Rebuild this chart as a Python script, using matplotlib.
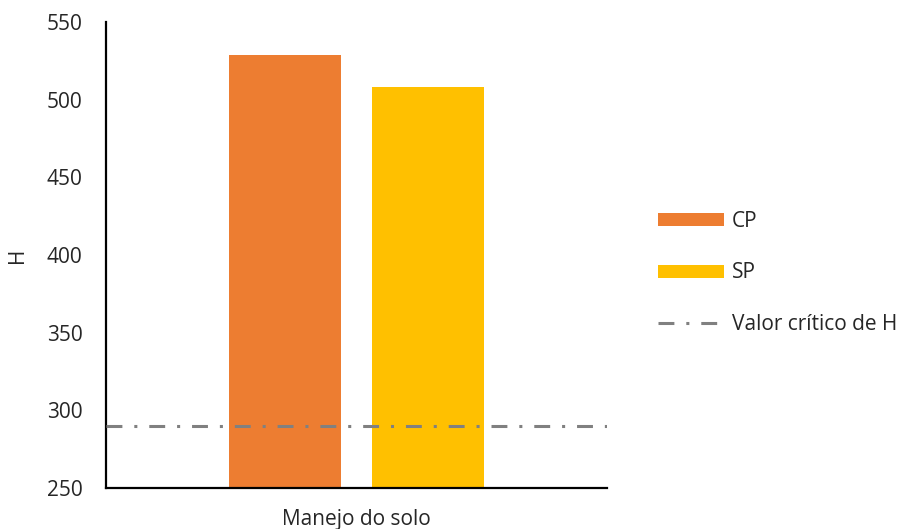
import matplotlib
matplotlib.use("Agg")
import matplotlib.pyplot as plt
from matplotlib.lines import Line2D
from matplotlib.patches import Patch

# Data
group = "Manejo do solo"
series = ["CP", "SP"]
values = [529.0, 508.0]
colors = ["#ED7D31", "#FFC000"]
critical_label = "Valor crítico de H"
critical_value = 290.0
y_ticks = [250, 300, 350, 400, 450, 500, 550]

plt.rcParams["font.family"] = ["Open Sans", "DejaVu Sans"]
FS = 15

fig = plt.figure(figsize=(9.01, 5.29), dpi=100)
ax = fig.add_axes([0.1176, 0.0775, 0.5565, 0.8805])

width = 0.224
offsets = [-0.1425, 0.1425]
center = 0.5
handles = []
for name, val, col, off in zip(series, values, colors, offsets):
    ax.bar(center + off, val - y_ticks[0], bottom=y_ticks[0], width=width,
           color=col, edgecolor="none", zorder=2)
    handles.append(Patch(facecolor=col, edgecolor="none", label=name))

dash = (0, (5.2, 3.9, 1.0, 3.9))
ax.axhline(critical_value, color="#808080", lw=2.2, linestyle=dash,
           dash_capstyle="butt", zorder=3)
handles.append(Line2D([0], [0], color="#808080", lw=2.2, linestyle=dash,
                      dash_capstyle="butt", label=critical_label))

ax.set_xlim(0, 1)
ax.set_ylim(y_ticks[0], y_ticks[-1])
ax.set_yticks(y_ticks)
ax.set_xticks([])
ax.tick_params(axis="y", length=0, labelsize=FS, pad=17, labelcolor="#262626")
for s in ["top", "right"]:
    ax.spines[s].set_visible(False)
for s in ["left", "bottom"]:
    ax.spines[s].set_linewidth(1.6)
    ax.spines[s].set_color("black")

ax.set_ylabel("H", fontsize=FS, color="#262626", labelpad=13)
ax.set_xlabel(group, fontsize=FS, color="#262626", labelpad=15)

leg = fig.legend(handles=handles, loc="center left",
                 bbox_to_anchor=(0.709, 0.484), frameon=False, fontsize=FS,
                 handlelength=3.2, handleheight=0.58, handletextpad=0.35,
                 labelspacing=1.45, labelcolor="#262626")

fig.savefig("out.png", dpi=100)
